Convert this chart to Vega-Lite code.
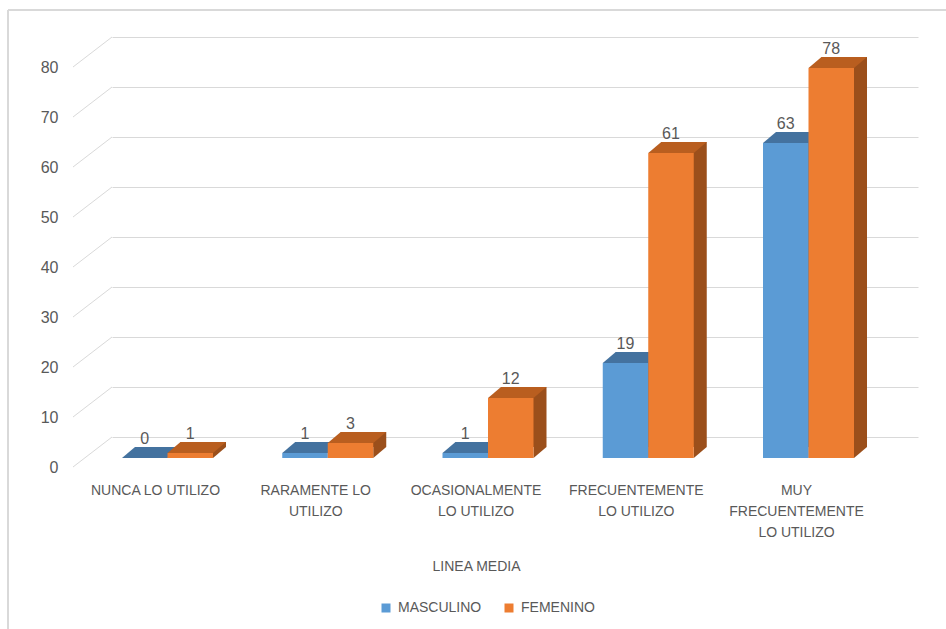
{
  "$schema": "https://vega.github.io/schema/vega-lite/v6.json",
  "width": 806,
  "height": 400,
  "autosize": {"type": "none"},
  "padding": {"left": 112, "top": 37, "right": 28, "bottom": 192},
  "background": "white",
  "config": {
    "view": {"stroke": null},
    "font": "Liberation Sans",
    "axis": {"labelColor": "#595959", "titleColor": "#595959", "titleFontWeight": "normal"},
    "legend": {"labelColor": "#595959"}
  },
  "datasets": {
    "respuestas": [
      {"categoria": "NUNCA LO UTILIZO", "genero": "MASCULINO", "valor": 0},
      {"categoria": "NUNCA LO UTILIZO", "genero": "FEMENINO", "valor": 1},
      {"categoria": "RARAMENTE LO UTILIZO", "genero": "MASCULINO", "valor": 1},
      {"categoria": "RARAMENTE LO UTILIZO", "genero": "FEMENINO", "valor": 3},
      {"categoria": "OCASIONALMENTE LO UTILIZO", "genero": "MASCULINO", "valor": 1},
      {"categoria": "OCASIONALMENTE LO UTILIZO", "genero": "FEMENINO", "valor": 12},
      {"categoria": "FRECUENTEMENTE LO UTILIZO", "genero": "MASCULINO", "valor": 19},
      {"categoria": "FRECUENTEMENTE LO UTILIZO", "genero": "FEMENINO", "valor": 61},
      {"categoria": "MUY FRECUENTEMENTE LO UTILIZO", "genero": "MASCULINO", "valor": 63},
      {"categoria": "MUY FRECUENTEMENTE LO UTILIZO", "genero": "FEMENINO", "valor": 78}
    ],
    "marcas": [
      {"v": 0}, {"v": 10}, {"v": 20}, {"v": 30}, {"v": 40},
      {"v": 50}, {"v": 60}, {"v": 70}, {"v": 80}
    ]
  },
  "layer": [
    {
      "data": {"values": [{}]},
      "layer": [
        {
          "mark": {"type": "rule", "color": "#D9D9D9", "strokeWidth": 2},
          "encoding": {"x": {"value": -104}, "x2": {"value": 834}, "y": {"value": -27}}
        },
        {
          "mark": {"type": "rule", "color": "#D9D9D9", "strokeWidth": 2},
          "encoding": {"x": {"value": -104}, "y": {"value": -27}, "y2": {"value": 592}}
        }
      ]
    },
    {
      "data": {"name": "marcas"},
      "mark": {"type": "rule", "color": "#D9D9D9", "strokeWidth": 1, "y2Offset": 30},
      "encoding": {
        "x": {"value": 0},
        "x2": {"value": -39},
        "y": {"field": "v", "type": "quantitative", "title": null},
        "y2": {"field": "v"}
      }
    },
    {
      "data": {"name": "respuestas"},
      "transform": [{"filter": "datum.genero === 'MASCULINO'"}],
      "encoding": {
        "x": {
          "field": "categoria",
          "type": "nominal",
          "sort": ["NUNCA LO UTILIZO", "RARAMENTE LO UTILIZO", "OCASIONALMENTE LO UTILIZO", "FRECUENTEMENTE LO UTILIZO", "MUY FRECUENTEMENTE LO UTILIZO"],
          "scale": {"paddingInner": 0.432, "paddingOuter": 0.2308},
          "title": "LINEA MEDIA",
          "axis": {
            "domain": false,
            "ticks": false,
            "grid": false,
            "labelAngle": 0,
            "labelLimit": 0,
            "labelFontSize": 14,
            "labelOffset": -39,
            "labelPadding": 46,
            "labelLineHeight": 21,
            "labelExpr": "datum.label == 'NUNCA LO UTILIZO' ? 'NUNCA LO UTILIZO' : datum.label == 'RARAMENTE LO UTILIZO' ? ['RARAMENTE LO', 'UTILIZO'] : datum.label == 'OCASIONALMENTE LO UTILIZO' ? ['OCASIONALMENTE', 'LO UTILIZO'] : datum.label == 'FRECUENTEMENTE LO UTILIZO' ? ['FRECUENTEMENTE', 'LO UTILIZO'] : ['MUY', 'FRECUENTEMENTE', 'LO UTILIZO']",
            "titleFontSize": 14,
            "titlePadding": 20,
            "titleX": 364
          }
        },
        "y": {
          "field": "valor",
          "type": "quantitative",
          "title": null,
          "scale": {"domain": [0, 80], "nice": false},
          "axis": {
            "values": [0, 10, 20, 30, 40, 50, 60, 70, 80],
            "domain": false,
            "ticks": false,
            "tickSize": 0,
            "grid": true,
            "gridColor": "#D9D9D9",
            "gridWidth": 1,
            "labelFontSize": 16,
            "labelOffset": 30,
            "labelPadding": 54
          }
        }
      },
      "layer": [
        {"mark": {"type": "bar", "width": 45.5, "color": "#3A6490", "xOffset": -36.75, "yOffset": 10, "y2Offset": 10}},
        {
          "mark": {"type": "point", "shape": "M22.75,0L22.75,-11L35.75,-11Z", "size": 4, "filled": true, "color": "#3A6490", "opacity": 1, "strokeWidth": 0, "xOffset": -49.75, "yOffset": 21},
          "encoding": {"y": {"datum": 0, "type": "quantitative"}}
        },
        {
          "mark": {"type": "bar", "width": 45.5, "xOffset": -49.75, "yOffset": 21, "y2Offset": 21},
          "encoding": {
            "color": {
              "field": "genero",
              "type": "nominal",
              "scale": {"domain": ["MASCULINO", "FEMENINO"], "range": ["#5B9BD5", "#ED7D31"]},
              "legend": {
                "orient": "none",
                "direction": "horizontal",
                "legendX": 267,
                "legendY": 564,
                "title": null,
                "symbolType": "square",
                "symbolSize": 81,
                "symbolStrokeWidth": 0,
                "labelFontSize": 14,
                "labelOffset": 5,
                "columnPadding": 20,
                "padding": 0
              }
            }
          }
        },
        {"mark": {"type": "point", "shape": "M-22.75,0L22.75,0L35.75,-11L-9.75,-11Z", "size": 4, "filled": true, "color": "#44729F", "opacity": 1, "strokeWidth": 0, "xOffset": -49.75, "yOffset": 21}},
        {
          "mark": {"type": "text", "fontSize": 16, "color": "#595959", "baseline": "middle", "xOffset": -49.75, "yOffset": 2},
          "encoding": {"text": {"field": "valor", "type": "quantitative"}}
        }
      ]
    },
    {
      "data": {"name": "respuestas"},
      "transform": [{"filter": "datum.genero === 'FEMENINO'"}],
      "encoding": {
        "x": {"field": "categoria", "type": "nominal", "sort": ["NUNCA LO UTILIZO", "RARAMENTE LO UTILIZO", "OCASIONALMENTE LO UTILIZO", "FRECUENTEMENTE LO UTILIZO", "MUY FRECUENTEMENTE LO UTILIZO"], "title": "LINEA MEDIA"},
        "y": {"field": "valor", "type": "quantitative", "title": null}
      },
      "layer": [
        {"mark": {"type": "bar", "width": 45.5, "color": "#9B4F1B", "xOffset": 8.75, "yOffset": 10, "y2Offset": 10}},
        {
          "mark": {"type": "point", "shape": "M22.75,0L22.75,-11L35.75,-11Z", "size": 4, "filled": true, "color": "#9B4F1B", "opacity": 1, "strokeWidth": 0, "xOffset": -4.25, "yOffset": 21},
          "encoding": {"y": {"datum": 0, "type": "quantitative"}}
        },
        {
          "mark": {"type": "bar", "width": 45.5, "xOffset": -4.25, "yOffset": 21, "y2Offset": 21},
          "encoding": {"color": {"field": "genero", "type": "nominal"}}
        },
        {"mark": {"type": "point", "shape": "M-22.75,0L22.75,0L35.75,-11L-9.75,-11Z", "size": 4, "filled": true, "color": "#B95E1F", "opacity": 1, "strokeWidth": 0, "xOffset": -4.25, "yOffset": 21}},
        {
          "mark": {"type": "text", "fontSize": 16, "color": "#595959", "baseline": "middle", "xOffset": -4.25, "yOffset": 2},
          "encoding": {"text": {"field": "valor", "type": "quantitative"}}
        }
      ]
    }
  ]
}
